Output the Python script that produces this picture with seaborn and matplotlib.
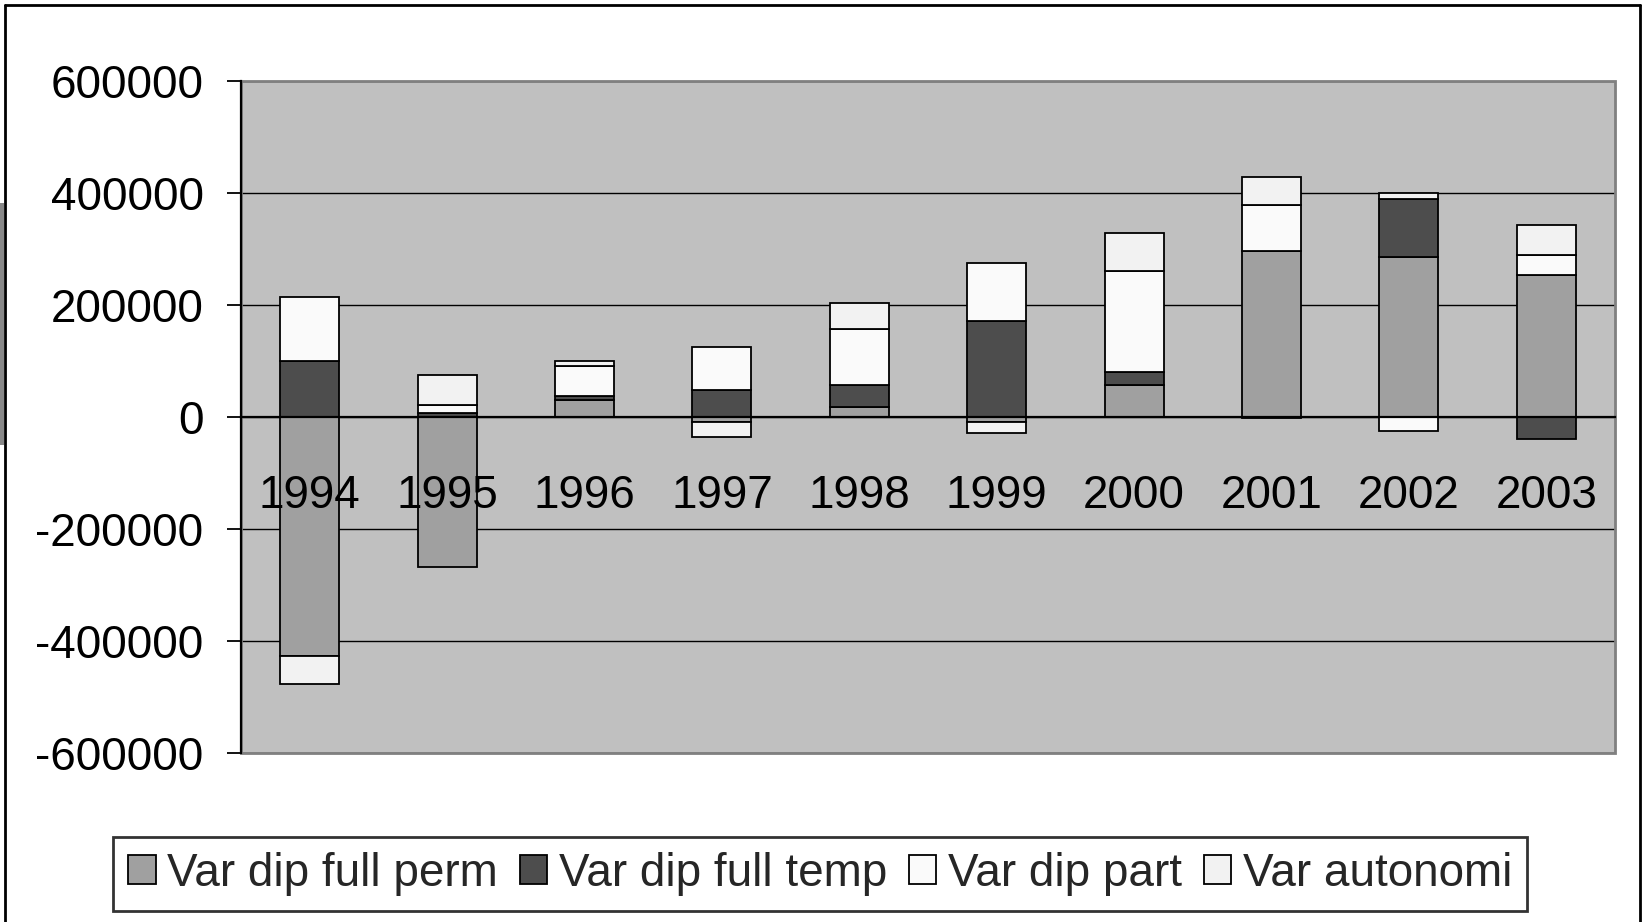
import numpy as np
import pandas as pd
import matplotlib
matplotlib.use("Agg")
import matplotlib.pyplot as plt
from matplotlib.patches import Patch, Rectangle
from matplotlib.lines import Line2D
import seaborn as sns

years = ["1994", "1995", "1996", "1997", "1998", "1999", "2000", "2001", "2002", "2003"]
series_names = ["Var dip full perm", "Var dip full temp", "Var dip part", "Var autonomi"]
full_perm = [-428000, -268000, 30000, -10000, 18000, -10000, 56600, 296500, 285700, 253000]
full_temp = [100000, 6000, 6000, 47000, 38600, 171500, 22700, -3000, 103000, -39300]
dip_part = [114000, 15000, 55000, 78000, 100000, 103500, 181400, 82000, -25500, 35800]
autonomi = [-49500, 53500, 8500, -25700, 47000, -18600, 67900, 50000, 11200, 54200]
colors = ["#A0A0A0", "#4D4D4D", "#FAFAFA", "#F2F2F2"]
yticks = [-600000, -400000, -200000, 0, 200000, 400000, 600000]

sns.set_theme(style="white")
plt.rcParams["font.family"] = ["Liberation Sans", "DejaVu Sans"]

W, H = 1642, 922
fig = plt.figure(figsize=(W / 100, H / 100), dpi=100)
fig.patch.set_facecolor("white")

x0, x1, y0, y1 = 241, 1615, 80.7, 752.5
ax = fig.add_axes([x0 / W, 1 - y1 / H, (x1 - x0) / W, (y1 - y0) / H])
ax.set_facecolor("#C0C0C0")

all_series = [full_perm, full_temp, dip_part, autonomi]
pos_base = np.zeros(len(years))
neg_base = np.zeros(len(years))
for name, vals, col in zip(series_names, all_series, colors):
    v = np.array(vals, dtype=float)
    bottom = np.where(v >= 0, pos_base, neg_base)
    df = pd.DataFrame({"year": years, "value": v})
    sns.barplot(data=df, x="year", y="value", order=years, bottom=bottom,
                color=col, saturation=1, edgecolor="black", linewidth=1.3,
                width=0.43, errorbar=None, ax=ax, zorder=3)
    pos_base = pos_base + np.where(v >= 0, v, 0)
    neg_base = neg_base + np.where(v < 0, v, 0)

for cont, col in zip(ax.containers, colors):
    for p in cont:
        p.set_facecolor(col)

ax.set_xlim(-0.5, len(years) - 0.5)
ax.set_ylim(-600000, 600000)
ax.set_xlabel("")
ax.set_ylabel("")

ax.set_yticks(yticks)
ax.set_yticklabels([str(t) for t in yticks])
ax.yaxis.grid(True, color="black", linewidth=1.0)
ax.xaxis.grid(False)
ax.set_axisbelow(True)
ax.xaxis.set_zorder(5)

ax.spines["bottom"].set_position(("data", 0))
ax.spines["bottom"].set_color("black")
ax.spines["bottom"].set_linewidth(1.6)
ax.spines["bottom"].set_zorder(4)
ax.spines["left"].set_color("black")
ax.spines["left"].set_linewidth(1.6)
ax.spines["top"].set_visible(False)
ax.spines["right"].set_visible(False)
ax.add_patch(Rectangle((0, 0), 1, 1, transform=ax.transAxes, fill=False,
                       edgecolor="#808080", linewidth=2.0, zorder=1, clip_on=False))

ax.set_xticks(range(len(years)))
ax.set_xticklabels(years)
ax.set_xticks(np.arange(-0.5, len(years), 1.0), minor=True)
ax.tick_params(axis="x", which="major", length=0, pad=41, labelsize=33, colors="black")
ax.tick_params(axis="x", which="minor", length=10, width=1.3, direction="out", color="black")
ax.tick_params(axis="y", which="major", length=10, width=1.3, direction="out",
               pad=17, labelsize=33, colors="black", left=True)

# outer chart border
fig.add_artist(Line2D([5 / W, 5 / W], [0, 1 - 5 / H], color="black", linewidth=2.0))
fig.add_artist(Line2D([5 / W, 1639.5 / W], [1 - 5 / H, 1 - 5 / H], color="black", linewidth=2.0))
fig.add_artist(Line2D([1639.5 / W, 1639.5 / W], [0, 1 - 5 / H], color="black", linewidth=2.0))
fig.add_artist(Rectangle((0, 1 - 445 / H), 3.5 / W, (445 - 203) / H, transform=fig.transFigure,
                         facecolor="#888888", edgecolor="none"))

handles = [Patch(facecolor=c, edgecolor="black", linewidth=1.3) for c in colors]
leg = fig.legend(handles, series_names, ncol=4, loc="lower left",
                 bbox_to_anchor=(113 / W, 1 - 911 / H, (1527 - 113) / W, (911 - 833) / H),
                 mode="expand", fontsize=33, frameon=True, fancybox=False,
                 edgecolor="black", handlelength=0.6, handleheight=0.6,
                 handletextpad=0.25, columnspacing=0.3, borderpad=0.33, borderaxespad=0)
leg.get_frame().set_linewidth(2.0)

fig.savefig("out.png", dpi=100, facecolor="white")
